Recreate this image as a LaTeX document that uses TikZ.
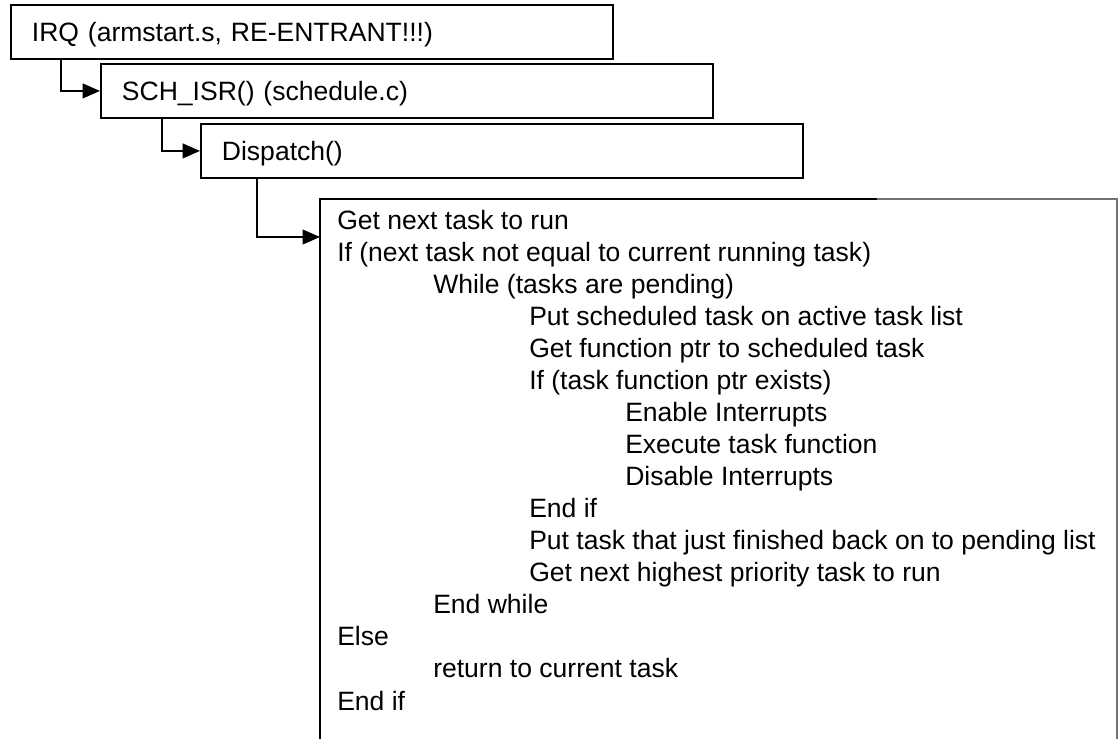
\documentclass[tikz,border=0pt]{standalone}
\usepackage{fontspec}
\setmainfont{Liberation Sans}
\usetikzlibrary{arrows.meta}
\begin{document}
\begin{tikzpicture}[x=0.75pt, y=-0.75pt,
  txt/.style={font=\fontsize{19.9pt}{24pt}\selectfont},
  callbox/.style={txt, draw, line width=1.4pt, anchor=north west, align=left,
    inner xsep=15.75pt, inner ysep=0pt, minimum height=40.5pt,
    text height=14.3pt, text depth=0pt, text width=#1},
  flow/.style={-{Triangle[length=13pt,width=11pt]}, line width=1.4pt},
  edge/.style={line width=1.4pt},
  faint/.style={line width=0.8pt, draw=black!55},
  codeline/.style={txt, anchor=base west, inner sep=0pt}
]
\useasboundingbox (0,0) rectangle (1118,739);

% call chain
\node[callbox=420pt]   (irq)  at (10,4)    {IRQ (armstart.s, RE-ENTRANT!!!)};
\node[callbox=427.5pt] (sch)  at (100,63)  {SCH\_ISR() (schedule.c)};
\node[callbox=420pt]   (disp) at (200,123) {Dispatch()};

% body of Dispatch(), open at the bottom
\coordinate (bodytl) at (320,199);
\coordinate (bodybl) at (320,739);
\coordinate (bodymid) at (877,199);
\coordinate (bodytr) at (1117,199);
\coordinate (bodybr) at (1117,739);
\coordinate (body) at (320,237);
\draw[edge] (bodybl) -- (bodytl) -- (bodymid);
\draw[faint] (bodymid) -- (bodytr) -- (bodybr);

% connectors
\draw[flow] ([xshift=38.25pt]irq.south west) |- (sch.west);
\draw[flow] ([xshift=46.5pt]sch.south west) |- (disp.west);
\draw[flow] ([xshift=42.75pt]disp.south west) |- (body);

% pseudo-code
\foreach \lvl/\code [count=\i from 0] in {
  0/{Get next task to run},
  0/{If (next task not equal to current running task)},
  1/{While (tasks are pending)},
  2/{Put scheduled task on active task list},
  2/{Get function ptr to scheduled task},
  2/{If (task function ptr exists)},
  3/{Enable Interrupts},
  3/{Execute task function},
  3/{Disable Interrupts},
  2/{End if},
  2/{Put task that just finished back on to pending list},
  2/{Get next highest priority task to run},
  1/{End while},
  0/{Else},
  1/{return to current task},
  0/{End if}}
  \node[codeline] (line\i) at ({337+96*\lvl},{229+32.07*\i}) {\code};
\end{tikzpicture}
\end{document}
